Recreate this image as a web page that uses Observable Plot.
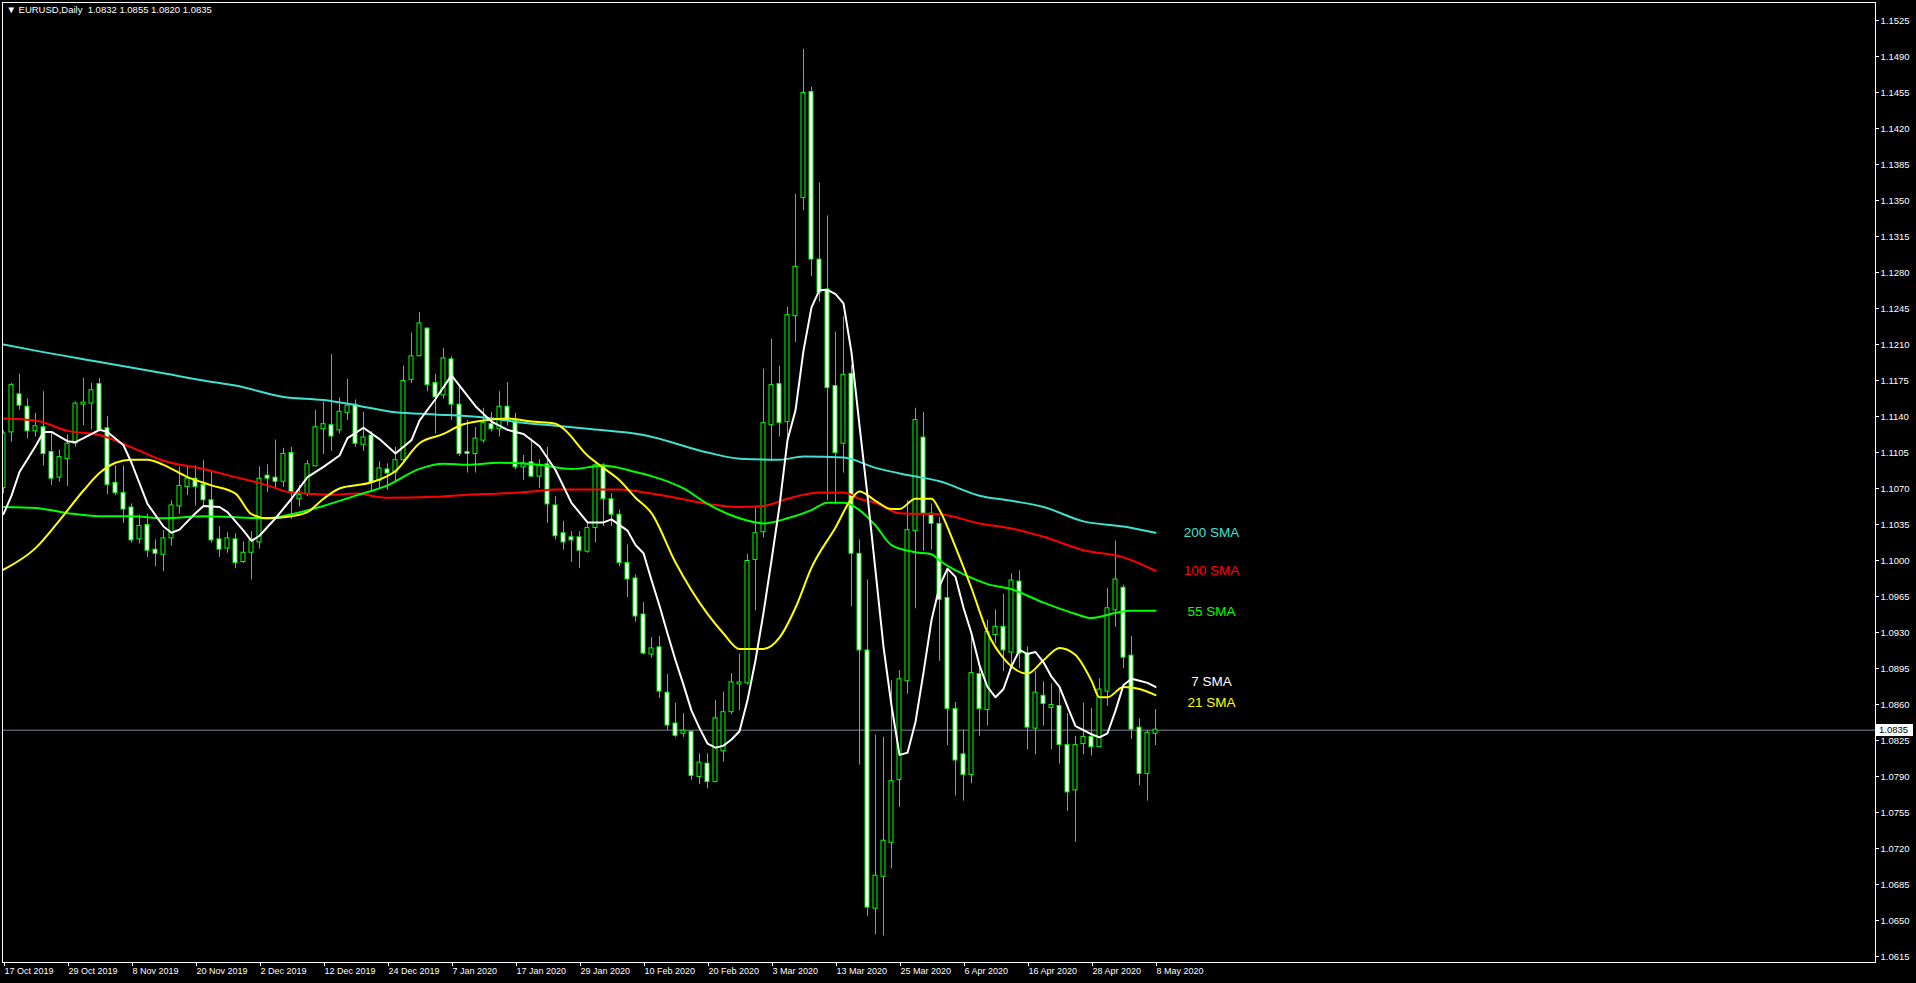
<!DOCTYPE html>
<html>
<head>
<meta charset="utf-8">
<script src="https://cdn.jsdelivr.net/npm/d3@7"></script>
<script src="https://cdn.jsdelivr.net/npm/@observablehq/plot@0.6"></script>
<style>
  html, body { margin: 0; padding: 0; background: #000; overflow: hidden; }
  #chart svg { display: block; }
</style>
</head>
<body>
<div id="chart"></div>
<script>
// ---------- data ----------
const symbol = "EURUSD";
const timeframe = "Daily";

const open = [
1.1071,1.1125,1.1161,1.1149,1.1126,1.1129,1.1105,1.1081,1.1099,1.1114,
1.1152,1.1153,1.1171,1.1128,1.1075,1.1065,1.1051,1.1021,1.1034,1.1010,
1.1006,1.1022,1.1053,1.1072,1.1079,1.1073,1.1058,1.1020,1.1012,1.1020,
1.0999,1.1008,1.1018,1.1082,1.1080,1.1077,1.1104,1.1060,1.1065,1.1092,
1.1128,1.1131,1.1127,1.1144,1.1151,1.1113,1.1121,1.1078,1.1088,1.1086,
1.1098,1.1176,1.1199,1.1225,1.1172,1.1161,1.1195,1.1151,1.1105,1.1104,
1.1117,1.1132,1.1128,1.1149,1.1135,1.1091,1.1095,1.1082,1.1093,1.1053,
1.1026,1.1022,1.1022,1.1009,1.1032,1.1092,1.1059,1.1044,1.0997,1.0982,
1.0947,1.0909,1.0915,1.0871,1.0841,1.0832,1.0833,1.0790,1.0802,1.0785,
1.0815,1.0853,1.0880,1.0881,1.1001,1.1028,1.1132,1.1171,1.1135,1.1238,
1.1353,1.1455,1.1292,1.1263,1.1169,1.1114,1.1181,1.1006,1.0912,1.0662,
1.0693,1.0726,1.0787,1.0883,1.1029,1.1119,1.1045,1.1035,1.0963,1.0855,
1.0811,1.0792,1.0889,1.0855,1.0928,1.0935,1.0911,1.0979,1.0909,1.0837,
1.0868,1.0857,1.0858,1.0820,1.0777,1.0822,1.0828,1.0819,1.0873,1.0952,
1.0973,1.0907,1.0837,1.0793,1.0832];

const high = [
1.1126,1.1172,1.1181,1.1157,1.1143,1.1164,1.1124,1.1107,1.1122,1.1154,
1.1177,1.1172,1.1177,1.1140,1.1092,1.1092,1.1055,1.1044,1.1045,1.1020,
1.1029,1.1058,1.1091,1.1091,1.1092,1.1097,1.1087,1.1033,1.1027,1.1026,
1.1018,1.1028,1.1091,1.1093,1.1117,1.1109,1.1110,1.1073,1.1097,1.1146,
1.1154,1.1200,1.1158,1.1176,1.1156,1.1144,1.1125,1.1096,1.1094,1.1110,
1.1189,1.1221,1.1241,1.1226,1.1181,1.1206,1.1198,1.1169,1.1136,1.1129,
1.1148,1.1144,1.1164,1.1173,1.1143,1.1102,1.1118,1.1098,1.1110,1.1062,
1.1038,1.1028,1.1028,1.1036,1.1094,1.1094,1.1065,1.1049,1.1015,1.0986,
1.0959,1.0925,1.0926,1.0889,1.0861,1.0851,1.0834,1.0812,1.0812,1.0864,
1.0872,1.0890,1.0909,1.1006,1.1051,1.1186,1.1215,1.1189,1.1246,1.1356,
1.1497,1.1460,1.1367,1.1335,1.1222,1.1237,1.1190,1.1020,1.0981,1.0830,
1.0828,1.0883,1.0893,1.1058,1.1148,1.1144,1.1055,1.1042,1.0990,1.0862,
1.0835,1.0926,1.0901,1.0942,1.0952,1.0967,1.0987,1.0990,1.0916,1.0892,
1.0882,1.0880,1.0874,1.0851,1.0829,1.0861,1.0856,1.0885,1.0973,1.1019,
1.0976,1.0926,1.0846,1.0835,1.0855];

const low = [
1.1065,1.1115,1.1146,1.1118,1.1120,1.1092,1.1073,1.1076,1.1072,1.1110,
1.1131,1.1127,1.1125,1.1064,1.1063,1.1036,1.1017,1.1016,1.1003,1.0994,
1.0989,1.1014,1.1045,1.1063,1.1053,1.1052,1.1017,1.1003,1.1007,1.0992,
1.0997,1.0981,1.1011,1.1066,1.1070,1.1071,1.1040,1.1052,1.1062,1.1091,
1.1103,1.1106,1.1123,1.1136,1.1110,1.1106,1.1067,1.1070,1.1068,1.1076,
1.1096,1.1172,1.1198,1.1164,1.1123,1.1157,1.1136,1.1101,1.1085,1.1085,
1.1114,1.1125,1.1120,1.1131,1.1088,1.1078,1.1081,1.1070,1.1036,1.1020,
1.1010,1.0998,1.0992,1.1007,1.1017,1.1033,1.1033,1.0994,1.0964,1.0940,
1.0908,1.0905,1.0866,1.0835,1.0828,1.0828,1.0786,1.0782,1.0778,1.0784,
1.0804,1.0850,1.0854,1.0879,1.0951,1.1022,1.1096,1.1120,1.1120,1.1212,
1.1340,1.1276,1.1251,1.1058,1.1054,1.1085,1.0955,1.0801,1.0654,1.0636,
1.0635,1.0700,1.0760,1.0870,1.0953,1.1009,1.1010,1.0902,1.0820,1.0771,
1.0766,1.0783,1.0829,1.0839,1.0919,1.0892,1.0895,1.0895,1.0816,1.0811,
1.0839,1.0816,1.0802,1.0756,1.0726,1.0811,1.0810,1.0819,1.0858,1.0935,
1.0895,1.0826,1.0781,1.0766,1.0820];

const close = [
1.1123,1.1170,1.1151,1.1126,1.1130,1.1104,1.1080,1.1100,1.1113,1.1152,
1.1153,1.1165,1.1127,1.1074,1.1066,1.1050,1.1020,1.1033,1.1010,1.1007,
1.1021,1.1053,1.1072,1.1079,1.1072,1.1059,1.1020,1.1011,1.1021,1.0998,
1.1007,1.1019,1.1079,1.1080,1.1077,1.1103,1.1067,1.1063,1.1093,1.1129,
1.1132,1.1121,1.1144,1.1150,1.1114,1.1119,1.1076,1.1089,1.1085,1.1097,
1.1174,1.1198,1.1230,1.1171,1.1159,1.1196,1.1152,1.1104,1.1104,1.1118,
1.1133,1.1128,1.1149,1.1136,1.1091,1.1094,1.1082,1.1091,1.1055,1.1024,
1.1018,1.1020,1.1010,1.1031,1.1092,1.1060,1.1045,1.0998,1.0982,1.0946,
1.0910,1.0914,1.0873,1.0840,1.0830,1.0834,1.0791,1.0803,1.0785,1.0846,
1.0852,1.0881,1.0881,1.0999,1.1026,1.1133,1.1170,1.1134,1.1238,1.1285,
1.1454,1.1293,1.1261,1.1168,1.1105,1.1180,1.1007,1.0913,1.0663,1.0693,
1.0727,1.0785,1.0884,1.1029,1.1136,1.1046,1.1036,1.0962,1.0856,1.0806,
1.0792,1.0890,1.0856,1.0930,1.0935,1.0913,1.0980,1.0910,1.0838,1.0871,
1.0861,1.0859,1.0821,1.0775,1.0820,1.0828,1.0819,1.0874,1.0953,1.0981,
1.0906,1.0836,1.0793,1.0832,1.0835];

// moving averages: [bar, value]
const sma200 = [[0,1.1210],[4,1.1204],[12,1.1193],[20,1.1182],[25,1.1175],[29,1.1170],[35,1.1159],[40,1.1156],[44,1.1151],[49,1.1144],[54,1.1142],[60,1.1139],[65,1.1134],[69,1.1131],[73,1.1128],[80,1.1122],[88,1.1105],[92,1.1099],[97,1.1098],[100,1.1101],[105,1.1100],[109,1.1090],[113,1.1083],[117,1.1077],[122,1.1063],[126,1.1058],[130,1.1052],[135,1.1038],[140,1.1033],[144,1.1027]];

const sma100 = [[0,1.1138],[4,1.1136],[8,1.1126],[12,1.1122],[16,1.1110],[20,1.1097],[25,1.1089],[29,1.1081],[33,1.1073],[36,1.1066],[41,1.1064],[44,1.1065],[48,1.1061],[54,1.1062],[58,1.1064],[62,1.1065],[66,1.1067],[69,1.1069],[73,1.1069],[77,1.1069],[81,1.1065],[84,1.1061],[88,1.1055],[92,1.1052],[95,1.1053],[98,1.1060],[102,1.1066],[105,1.1066],[107,1.1060],[109,1.1056],[112,1.1046],[117,1.1045],[122,1.1036],[126,1.1031],[130,1.1023],[135,1.1010],[140,1.1003],[144,1.0990]];

const sma55 = [[0,1.1052],[4,1.1051],[8,1.1046],[12,1.1043],[16,1.1043],[20,1.1041],[25,1.1043],[29,1.1042],[33,1.1041],[36,1.1045],[40,1.1053],[44,1.1063],[48,1.1073],[52,1.1089],[55,1.1094],[58,1.1093],[62,1.1095],[67,1.1093],[71,1.1089],[75,1.1092],[79,1.1086],[81,1.1082],[85,1.1070],[88,1.1055],[92,1.1041],[95,1.1036],[98,1.1041],[101,1.1049],[103,1.1056],[105,1.1056],[107,1.1049],[109,1.1034],[111,1.1015],[114,1.1008],[116,1.1006],[117,1.1000],[121,1.0983],[123,1.0977],[126,1.0972],[130,1.0959],[134,1.0948],[136,1.0944],[139,1.0949],[141,1.0951],[144,1.0951]];

const sma21 = [[0,1.0991],[4,1.1012],[7,1.1039],[10,1.1068],[12,1.1085],[14,1.1095],[16,1.1098],[18,1.1098],[20,1.1093],[23,1.1081],[26,1.1073],[29,1.1065],[31,1.1045],[33,1.1041],[36,1.1043],[38,1.1047],[40,1.1060],[42,1.1070],[46,1.1076],[49,1.1087],[52,1.1114],[55,1.1123],[57,1.1131],[60,1.1136],[63,1.1138],[66,1.1135],[69,1.1133],[70,1.1128],[73,1.1102],[75,1.1090],[77,1.1078],[79,1.1061],[81,1.1046],[84,1.0998],[88,1.0948],[90,1.0929],[92,1.0914],[95,1.0914],[97,1.0925],[99,1.0954],[101,1.0993],[104,1.1032],[106,1.1060],[107,1.1067],[109,1.1058],[111,1.1050],[112,1.1050],[114,1.1060],[116,1.1060],[117,1.1049],[119,1.1013],[121,1.0973],[123,1.0930],[125,1.0905],[128,1.0890],[130,1.0903],[132,1.0915],[134,1.0908],[136,1.0883],[137,1.0867],[138,1.0867],[140,1.0877],[142,1.0875],[144,1.0869]];

const sma7 = [[0,1.1045],[1,1.1063],[2,1.1086],[4,1.1111],[5,1.1125],[6,1.1125],[8,1.1116],[9,1.1115],[10,1.1119],[12,1.1127],[13,1.1125],[15,1.1112],[16,1.1095],[18,1.1055],[20,1.1033],[21,1.1027],[22,1.1030],[24,1.1046],[25,1.1053],[27,1.1052],[28,1.1047],[30,1.1029],[31,1.1019],[32,1.1024],[34,1.1041],[36,1.1060],[38,1.1081],[40,1.1091],[42,1.1102],[43,1.1119],[45,1.1129],[47,1.1118],[49,1.1104],[51,1.1117],[52,1.1136],[54,1.1157],[56,1.1180],[57,1.1170],[59,1.1150],[61,1.1135],[63,1.1127],[65,1.1123],[67,1.1111],[69,1.1088],[71,1.1056],[73,1.1037],[75,1.1037],[76,1.1040],[78,1.1029],[79,1.1015],[80,1.1007],[81,1.0981],[82,1.0956],[83,1.0929],[84,1.0903],[85,1.0879],[86,1.0854],[87,1.0837],[88,1.0822],[89,1.0818],[90,1.0820],[91,1.0826],[92,1.0834],[93,1.0864],[94,1.0903],[95,1.0949],[96,1.1000],[97,1.1053],[98,1.1117],[99,1.1146],[100,1.1204],[101,1.1246],[102,1.1263],[103,1.1263],[104,1.1259],[105,1.1250],[106,1.1202],[107,1.1131],[108,1.1063],[109,1.0990],[110,1.0916],[111,1.0859],[112,1.0811],[113,1.0813],[114,1.0843],[115,1.0891],[116,1.0942],[117,1.0975],[118,1.0992],[119,1.0984],[120,1.0954],[121,1.0929],[122,1.0898],[123,1.0877],[124,1.0867],[125,1.0875],[126,1.0897],[127,1.0913],[128,1.0909],[129,1.0911],[130,1.0901],[131,1.0887],[132,1.0877],[133,1.0858],[134,1.0839],[135,1.0835],[136,1.0831],[137,1.0828],[138,1.0832],[139,1.0854],[140,1.0879],[141,1.0885],[142,1.0883],[143,1.0881],[144,1.0877]];

// text labels placed on the chart (name, colour, anchor price), anchored at a bar
const smaLabelNames  = ["200 SMA", "100 SMA", "55 SMA", "7 SMA", "21 SMA"];
const smaLabelColors = ["#40e0d0", "#ff0000", "#00ff00", "#ffffff", "#ffff00"];
const smaLabelPrices = [1.1027, 1.0990, 1.0950, 1.0882, 1.0862];
const smaLabelBar = 151;

// axis ticks
const priceTicks = [1.0615,1.0650,1.0685,1.0720,1.0755,1.0790,1.0825,1.0860,1.0895,1.0930,1.0965,1.1000,1.1035,1.1070,1.1105,1.1140,1.1175,1.1210,1.1245,1.1280,1.1315,1.1350,1.1385,1.1420,1.1455,1.1490,1.1525];
const dateTickBars = [0,8,16,24,32,40,48,56,64,72,80,88,96,104,112,120,128,136,144];
const dateTickLabels = ["17 Oct 2019","29 Oct 2019","8 Nov 2019","20 Nov 2019","2 Dec 2019","12 Dec 2019","24 Dec 2019","7 Jan 2020","17 Jan 2020","29 Jan 2020","10 Feb 2020","20 Feb 2020","3 Mar 2020","13 Mar 2020","25 Mar 2020","6 Apr 2020","16 Apr 2020","28 Apr 2020","8 May 2020"];

// visible window (bars) and price range of the pane
const xDomain = [-0.125, 234];
const yDomain = [1.060914, 1.154246];

// ---------- build ----------
const fmt4 = d3.format(".4f");
const bars = open.map((o, i) => ({i, open: o, high: high[i], low: low[i], close: close[i]}));
const last = bars[bars.length - 1];
const pts = arr => arr.map(([i, v]) => ({i, v}));
const labelByBar = new Map(dateTickBars.map((b, k) => [b, dateTickLabels[k]]));
const smaLabels = smaLabelNames.map((name, k) => ({name, color: smaLabelColors[k], price: smaLabelPrices[k]}));
const header = `\u25BC ${symbol},${timeframe}\u00A0\u00A0${[last.open, last.high, last.low, last.close].map(fmt4).join(" ")}`;

const font = "'Liberation Sans', Arial, sans-serif";
const lineOpts = (color, curve) => ({x: "i", y: "v", stroke: color, strokeWidth: 2, curve, clip: true});

const chart = Plot.plot({
  width: 1916,
  height: 983,
  marginLeft: 2,
  marginTop: 2,
  marginRight: 41,
  marginBottom: 21,
  style: {background: "#000", color: "#fff", fontFamily: font, fontSize: "9.5px"},
  x: {domain: xDomain, axis: null, label: null},
  y: {domain: yDomain, axis: null, label: null},
  color: {type: "identity"},
  marks: [
    Plot.ruleY([last.close], {stroke: "#7b8896", strokeWidth: 1}),
    Plot.ruleX(bars, {x: "i", y1: "low", y2: "high", stroke: "#00ff00", strokeWidth: 1, clip: true}),
    Plot.rect(bars, {
      x1: d => d.i - 0.25,
      x2: d => d.i + 0.25,
      y1: d => Math.min(d.open, d.close),
      y2: d => Math.max(d.open, d.close),
      fill: d => d.close >= d.open ? "#000000" : "#ffffff",
      stroke: "#00ff00",
      strokeWidth: 1,
      insetTop: -0.5,
      insetBottom: -0.5,
      clip: true
    }),
    Plot.line(pts(sma200), lineOpts("#40e0d0", "monotone-x")),
    Plot.line(pts(sma100), lineOpts("#ff0000", "monotone-x")),
    Plot.line(pts(sma55), lineOpts("#00ff00", "monotone-x")),
    Plot.line(pts(sma21), lineOpts("#ffff00", "monotone-x")),
    Plot.line(pts(sma7), lineOpts("#ffffff", "linear")),
    Plot.text(smaLabels, {
      x: () => smaLabelBar, y: "price", text: "name", fill: "color",
      fontSize: 13.5, fontFamily: font, textAnchor: "middle"
    }),
    Plot.frame({stroke: "#ffffff"}),
    // price scale on the right: ticks and labels
    Plot.tickY(priceTicks, {y: d => d, frameAnchor: "right", stroke: "#ffffff",
      render(index, scales, values, dimensions) {
        const x = dimensions.width - dimensions.marginRight;
        const g = d3.create("svg:g").attr("stroke", "#ffffff");
        for (const i of index) {
          const y = Math.round(values.y[i]) + 0.5;
          g.append("line").attr("x1", x).attr("x2", x + 4).attr("y1", y).attr("y2", y);
        }
        return g.node();
      }
    }),
    Plot.text(priceTicks, {
      y: d => d, text: d => fmt4(d), frameAnchor: "right", dx: 5, textAnchor: "start",
      fill: "#ffffff", fontSize: 9.5, fontFamily: font
    }),
    Plot.axisX(dateTickBars, {
      anchor: "bottom", tickSize: 4, tickPadding: 1, tickFormat: d => labelByBar.get(d),
      textAnchor: "start", dx: 1, stroke: "#ffffff", fill: "#ffffff", fontSize: 9, fontFamily: font
    }),
    Plot.text([header], {
      frameAnchor: "top-left", text: d => d, dx: 4, dy: 4, lineAnchor: "top",
      textAnchor: "start", fill: "#ffffff", fontSize: 9.5, fontFamily: font
    }),
    // current price tag on the price scale
    Plot.text([last.close], {
      y: d => d, text: d => fmt4(d), frameAnchor: "right",
      render(index, scales, values, dimensions) {
        const y = Math.round(scales.y(last.close));
        const x = dimensions.width - dimensions.marginRight;
        const g = d3.create("svg:g");
        g.append("rect").attr("x", x + 1).attr("y", y - 6).attr("width", 37).attr("height", 12).attr("fill", "#ffffff");
        g.append("text").attr("x", x + 4).attr("y", y).attr("dy", "0.35em")
          .attr("text-anchor", "start")
          .attr("fill", "#000000").attr("font-size", 9.5).attr("font-family", font)
          .text(fmt4(last.close));
        return g.node();
      }
    })
  ]
});

document.getElementById("chart").appendChild(chart);
</script>
</body>
</html>
